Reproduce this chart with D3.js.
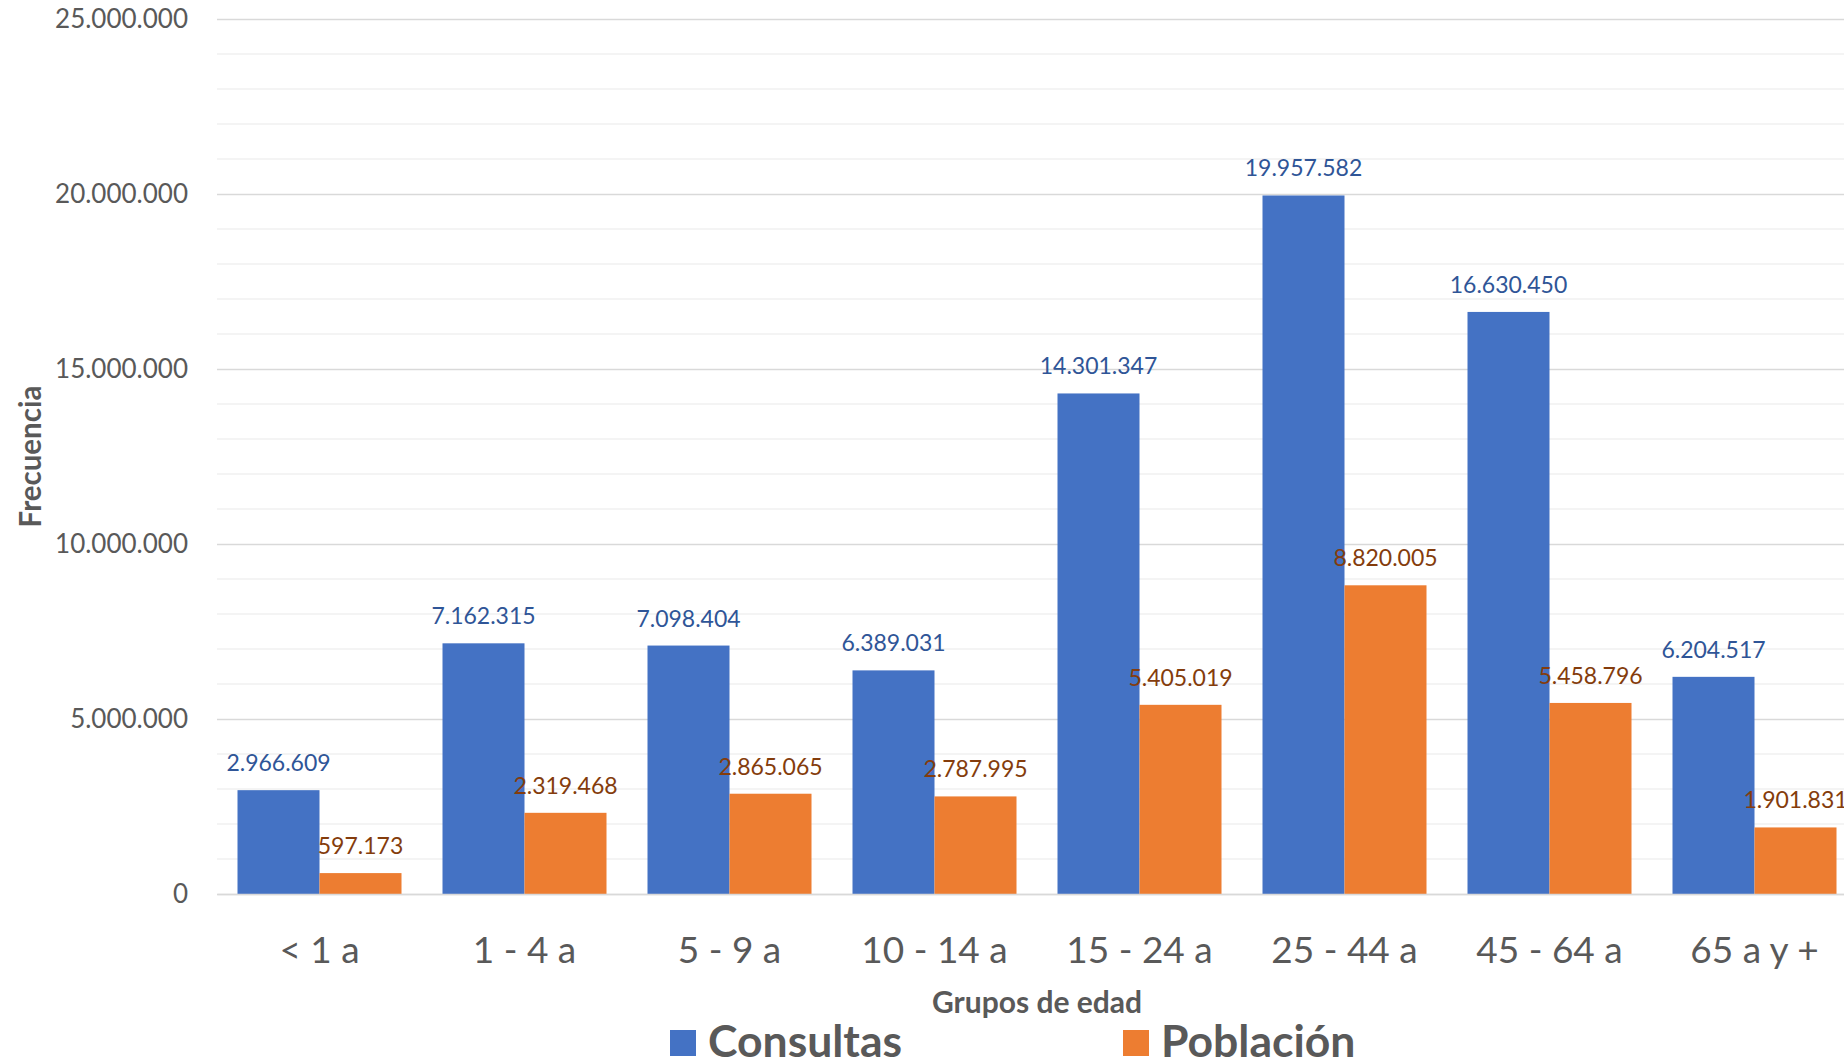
<!DOCTYPE html>
<html>
<head>
<meta charset="utf-8">
<script src="https://cdn.jsdelivr.net/npm/d3@7"></script>
<style>
  html, body { margin: 0; padding: 0; background: #fff; }
  svg { display: block; font-family: Lato, "Open Sans", sans-serif; }
</style>
</head>
<body>
<svg id="chart" width="1844" height="1064"></svg>
<script>
// Consultas y población por grupo de edad
const categories = ["< 1 a", "1 - 4 a", "5 - 9 a", "10 - 14 a", "15 - 24 a", "25 - 44 a", "45 - 64 a", "65 a y +"];
const seriesNames = ["Consultas", "Población"];
const consultas = [2966609, 7162315, 7098404, 6389031, 14301347, 19957582, 16630450, 6204517];
const poblacion = [597173, 2319468, 2865065, 2787995, 5405019, 8820005, 5458796, 1901831];
const yTicks = [0, 5000000, 10000000, 15000000, 20000000, 25000000];

const barColors = ["#4472C4", "#ED7D31"];
const labelColors = ["#2F5597", "#843C0C"];
const textGrey = "#595959";

const locale = d3.formatLocale({ decimal: ",", thousands: ".", grouping: [3], currency: ["", ""] });
const fmt = locale.format(",d");

const svg = d3.select("#chart");
const plot = { left: 217, right: 1857, top: 19, bottom: 894 };

const x = d3.scaleBand().domain(categories).range([plot.left, plot.right])
  .paddingInner(0.2).paddingOuter(0.1);
const xs = d3.scaleBand().domain(seriesNames).range([0, x.bandwidth()]);
const y = d3.scaleLinear().domain([0, 25000000]).range([plot.bottom, plot.top]);

// minor gridlines every million
const minor = d3.range(1000000, 25000001, 1000000).filter(v => v % 5000000 !== 0);
svg.append("g").selectAll("line").data(minor).join("line")
  .attr("x1", plot.left).attr("x2", plot.right)
  .attr("y1", d => y(d)).attr("y2", d => y(d))
  .attr("stroke", "#F0F0F0").attr("stroke-width", 1.5);

// major gridlines + y axis labels
const yAxis = d3.axisLeft(y).tickValues(yTicks).tickFormat(fmt)
  .tickSize(-(plot.right - plot.left)).tickPadding(29);
const gy = svg.append("g").attr("transform", `translate(${plot.left},0)`).call(yAxis);
gy.select(".domain").remove();
gy.selectAll(".tick line").attr("stroke", "#D9D9D9").attr("stroke-width", 1.5);
gy.selectAll(".tick text").attr("fill", textGrey).attr("font-size", 26)
  .attr("font-family", "Lato, sans-serif");

// bars
const rows = categories.map((c, i) => ({ cat: c, values: [consultas[i], poblacion[i]] }));
const groups = svg.append("g").selectAll("g").data(rows).join("g")
  .attr("transform", d => `translate(${x(d.cat)},0)`);

groups.selectAll("rect").data(d => d.values.map((v, k) => ({ v, k })))
  .join("rect")
  .attr("x", d => xs(seriesNames[d.k]))
  .attr("width", xs.bandwidth())
  .attr("y", d => y(d.v))
  .attr("height", d => y(0) - y(d.v))
  .attr("fill", d => barColors[d.k]);

groups.selectAll("text").data(d => d.values.map((v, k) => ({ v, k })))
  .join("text")
  .attr("x", d => xs(seriesNames[d.k]) + xs.bandwidth() / 2)
  .attr("y", d => y(d.v) - 19)
  .attr("text-anchor", "middle")
  .attr("font-size", 23)
  .attr("fill", d => labelColors[d.k])
  .text(d => fmt(d.v));

// x axis
const xAxis = d3.axisBottom(x).tickSize(0).tickPadding(0);
const gx = svg.append("g").attr("transform", `translate(0,${plot.bottom})`).call(xAxis);
gx.select(".domain").attr("stroke", "#D9D9D9").attr("stroke-width", 1.5);
gx.selectAll(".tick text").attr("fill", textGrey).attr("font-size", 37)
  .attr("font-family", "Lato, sans-serif")
  .attr("dy", null).attr("y", 69);

// axis titles
svg.append("text").attr("x", (plot.left + plot.right) / 2).attr("y", 1013)
  .attr("text-anchor", "middle").attr("font-size", 30).attr("font-weight", "bold")
  .attr("fill", textGrey).text("Grupos de edad");

svg.append("text").attr("transform", `translate(41,${(plot.top + plot.bottom) / 2}) rotate(-90)`)
  .attr("text-anchor", "middle").attr("font-size", 29.5).attr("font-weight", "bold")
  .attr("fill", textGrey).text("Frecuencia");

// legend
const legendX = [670, 1123];
const legend = svg.append("g").selectAll("g").data(seriesNames).join("g")
  .attr("transform", (d, i) => `translate(${legendX[i]},1030)`);
legend.append("rect").attr("width", 26).attr("height", 26)
  .attr("fill", (d, i) => barColors[i]);
legend.append("text").attr("x", 38).attr("y", 27)
  .attr("font-size", 44.5).attr("font-weight", "bold").attr("fill", textGrey)
  .text(d => d);
</script>
</body>
</html>
